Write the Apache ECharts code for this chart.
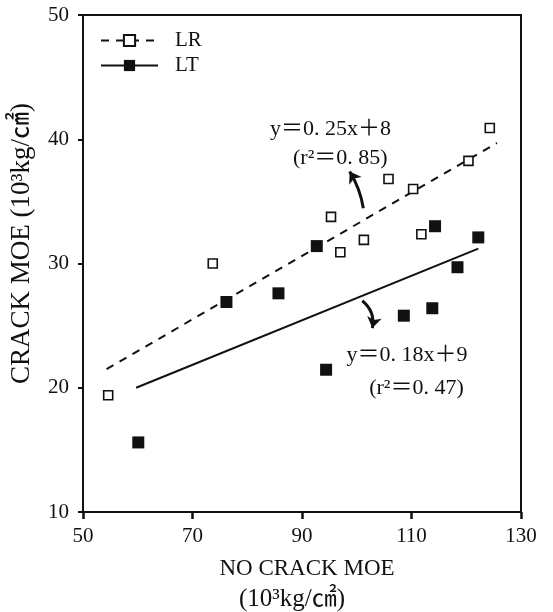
<!DOCTYPE html>
<html><head><meta charset="utf-8">
<script src="https://cdn.jsdelivr.net/npm/echarts@6/dist/echarts.min.js"></script>
<style>html,body{margin:0;padding:0;background:#fff}#c{width:553px;height:612px}</style>
</head><body><div id="c"></div><script>
// ---- data ----
const xTicks = [50, 70, 90, 110, 130];
const yTicks = [10, 20, 30, 40, 50];
const lrX = [54.6, 73.7, 95.3, 97.0, 101.3, 105.8, 110.3, 111.8, 120.4, 124.3];
const lrY = [19.4, 30.0, 33.75, 30.9, 31.9, 36.8, 36.0, 32.35, 38.26, 40.9];
const ltX = [60.1, 76.2, 85.7, 92.7, 94.4, 108.6, 113.8, 114.3, 118.4, 122.2];
const ltY = [15.6, 26.9, 27.6, 31.4, 21.45, 25.8, 26.4, 33.0, 29.7, 32.1];
const lrFitX = [54.3, 125.6], lrFitY = [21.5, 39.7];
const ltFitX = [59.7, 122.2], ltFitY = [20.0, 31.2];
const annText = ['y＝0. 25x＋8', '(r²＝0. 85)', 'y＝0. 18x＋9', '(r²＝0. 47)'];
const annX = [95.2, 97.0, 109.2, 110.9];
const annY = [40.8, 38.5, 22.65, 20.0];
const arrowFromX = [101.2, 101.0], arrowFromY = [34.45, 27.0];
const arrowToX = [98.7, 102.85], arrowToY = [37.4, 24.8];
const arrowBend = [-0.1, 0.3];
const seriesNames = ['LR', 'LT'];
const xTitle1 = 'NO CRACK MOE', xTitle2 = '(10³kg/㎠)';
const yTitle = 'CRACK MOE (10³kg/㎠)';

const FONT = '"Liberation Serif","DejaVu Serif","Noto Sans CJK KR",serif';
const zip = (a, b) => a.map((v, i) => [v, b[i]]);

const chart = echarts.init(document.getElementById('c'), null, {renderer: 'canvas'});
chart.setOption({
  backgroundColor: '#fff',
  animation: false,
  textStyle: {fontFamily: FONT, color: '#111'},
  grid: {left: 83, right: 32, top: 15, bottom: 100, show: true, borderColor: '#111', borderWidth: 2,
         containLabel: false, outerBoundsMode: 'none'},
  legend: {
    data: seriesNames, orient: 'vertical', left: 100, top: 30, padding: 0,
    itemWidth: 57, itemHeight: 14, itemGap: 4,
    textStyle: {fontFamily: FONT, fontSize: 21, color: '#111', padding: [0, 0, 0, 12]}
  },
  xAxis: {
    type: 'value', min: xTicks[0], max: xTicks[xTicks.length - 1], interval: 20,
    name: '{a|' + xTitle1 + '}\n{b|' + xTitle2 + '}', nameLocation: 'middle', nameGap: 42,
    nameTextStyle: {fontFamily: FONT, color: '#111',
      rich: {a: {fontFamily: FONT, fontSize: 23, lineHeight: 30, color: '#111', padding: [0, 0, 0, 10]},
             b: {fontFamily: FONT, fontSize: 25, lineHeight: 30, color: '#111', padding: [0, 20, 0, 0]}}},
    axisLine: {lineStyle: {color: '#111', width: 2}},
    axisTick: {length: 7, lineStyle: {color: '#111', width: 2.5}},
    axisLabel: {fontFamily: FONT, fontSize: 21, color: '#111', margin: 14},
    splitLine: {show: false}
  },
  yAxis: {
    type: 'value', min: yTicks[0], max: yTicks[yTicks.length - 1], interval: 10,
    name: yTitle, nameLocation: 'middle', nameGap: 48, nameRotate: 90,
    nameTextStyle: {fontFamily: FONT, fontSize: 27, color: '#111', padding: [0, 0, 0, 40]},
    axisLine: {lineStyle: {color: '#111', width: 2}},
    axisTick: {length: 5, lineStyle: {color: '#111', width: 2}},
    axisLabel: {fontFamily: FONT, fontSize: 21, color: '#111', margin: 14},
    splitLine: {show: false}
  },
  series: [
    {
      name: 'LR', type: 'line', data: zip(lrFitX, lrFitY), symbol: 'emptyRect', symbolSize: 10,
      showSymbol: false, lineStyle: {color: '#111', width: 2, type: [8, 7]},
      itemStyle: {color: '#111', borderWidth: 1.5}, z: 2
    },
    {
      name: 'LT', type: 'line', data: zip(ltFitX, ltFitY), symbol: 'rect', symbolSize: 11,
      showSymbol: false, lineStyle: {color: '#111', width: 2},
      itemStyle: {color: '#111'}, z: 2
    },
    {
      name: 'LR pts', type: 'scatter', data: zip(lrX, lrY), symbol: 'rect', symbolSize: 9,
      itemStyle: {color: '#fff', borderColor: '#111', borderWidth: 1.6, opacity: 1}, z: 4
    },
    {
      name: 'LT pts', type: 'scatter', data: zip(ltX, ltY), symbol: 'rect', symbolSize: 12,
      itemStyle: {color: '#111', opacity: 1}, z: 4
    },
    {
      name: 'arrows', type: 'lines', coordinateSystem: 'cartesian2d',
      symbol: ['none', 'arrow'], symbolSize: 11,
      lineStyle: {color: '#111', width: 3, opacity: 1},
      data: arrowFromX.map((v, i) => ({
        coords: [[v, arrowFromY[i]], [arrowToX[i], arrowToY[i]]],
        lineStyle: {curveness: arrowBend[i]}
      })),
      z: 5
    },
    {
      name: 'annotations', type: 'scatter', symbolSize: 1,
      itemStyle: {color: 'rgba(0,0,0,0)', opacity: 1},
      data: annText.map((t, i) => ({name: t, value: [annX[i], annY[i]]})),
      label: {show: true, position: 'inside', formatter: p => p.name,
        fontFamily: FONT, fontSize: 22, color: '#111', opacity: 1},
      silent: true, z: 6
    }
  ]
});
</script></body></html>
